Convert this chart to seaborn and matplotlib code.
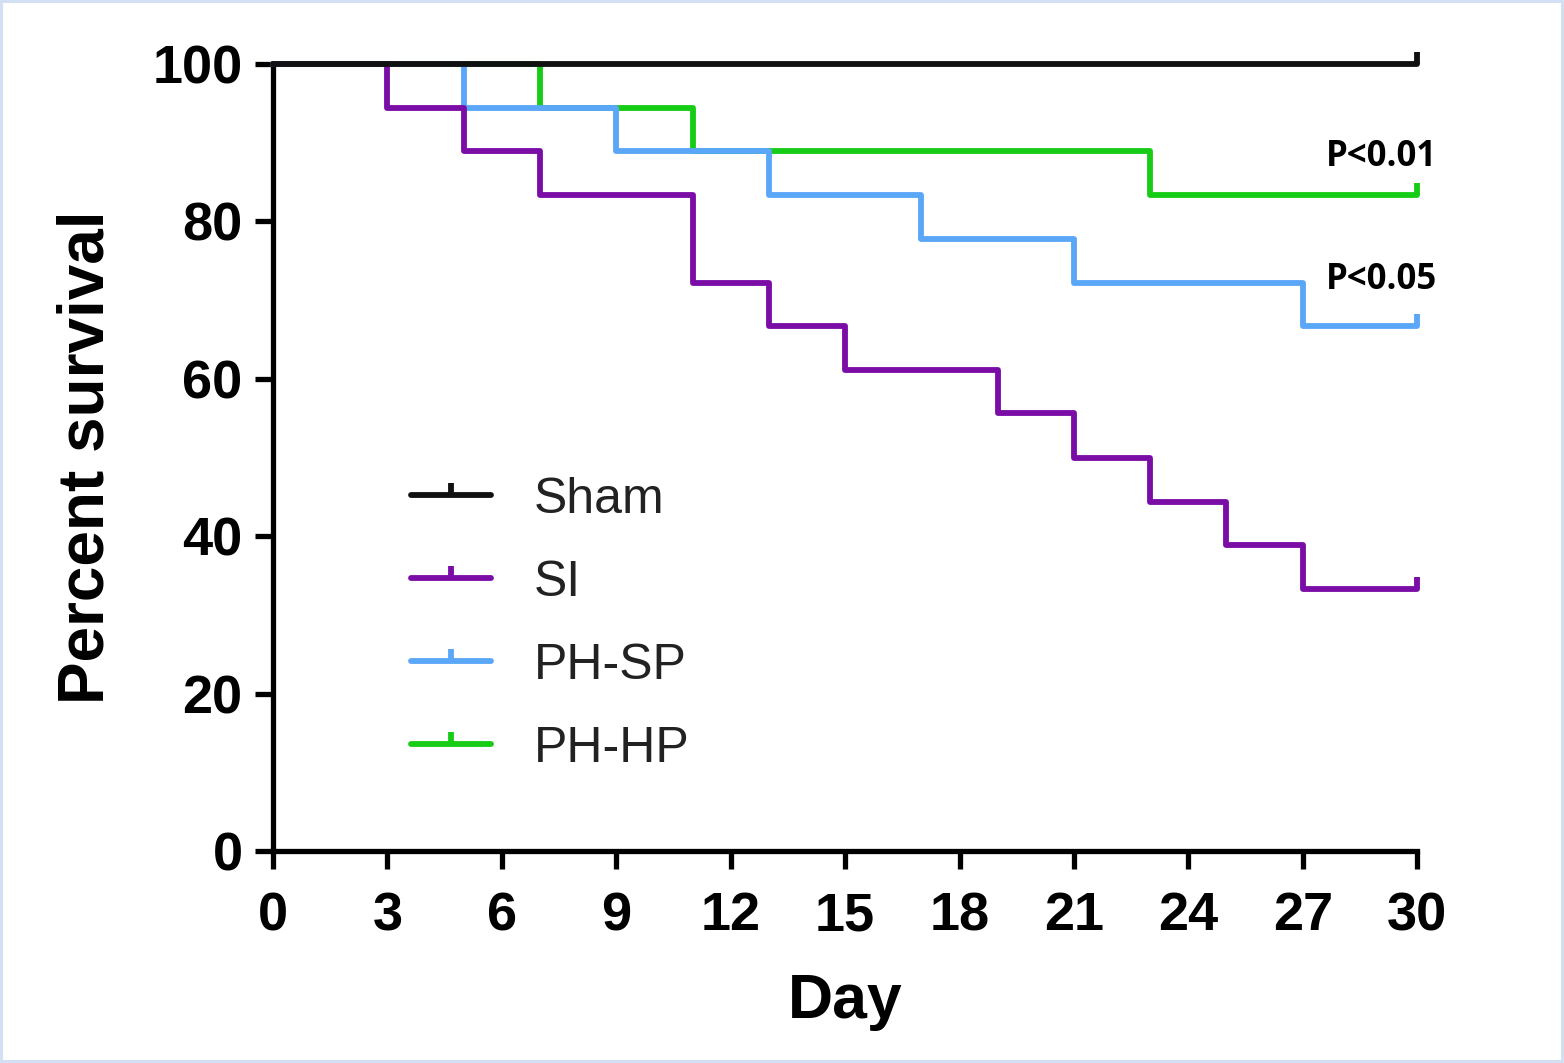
import pandas as pd
import seaborn as sns
import numpy as np
import matplotlib.pyplot as plt
from matplotlib.path import Path

# Kaplan-Meier style step data (day of event, percent survival after event)
sham_day = [0, 30]
sham_pct = [100, 100]

si_day = [0, 3, 5, 7, 11, 13, 15, 19, 21, 23, 25, 27, 30]
si_pct = [100, 94.4, 88.9, 83.3, 72.2, 66.7, 61.1, 55.6, 50.0, 44.4, 38.9, 33.3, 33.3]

phsp_day = [0, 5, 9, 13, 17, 21, 27, 30]
phsp_pct = [100, 94.4, 88.9, 83.3, 77.8, 72.2, 66.7, 66.7]

phhp_day = [0, 7, 11, 23, 30]
phhp_pct = [100, 94.4, 88.9, 83.3, 83.3]

groups = ['Sham', 'SI', 'PH-SP', 'PH-HP']
colors = ['#111111', '#7a0da6', '#5aa6f7', '#16cc16']
p_labels = ['P<0.01', 'P<0.05']
p_y = [88.2, 72.6]

x_ticks = [0, 3, 6, 9, 12, 15, 18, 21, 24, 27, 30]
y_ticks = [0, 20, 40, 60, 80, 100]

sns.set_style("ticks")
plt.rcParams['font.family'] = ['Liberation Sans', 'DejaVu Sans']
plt.rcParams['text.color'] = 'black'
plt.rcParams['axes.labelcolor'] = 'black'
plt.rcParams['xtick.color'] = 'black'
plt.rcParams['ytick.color'] = 'black'
plt.rcParams['axes.edgecolor'] = 'black'

fig = plt.figure(figsize=(15.64, 10.63), dpi=100)
fig.patch.set_edgecolor('#d3e0f4')
fig.patch.set_linewidth(3)
ax = fig.add_axes([0.1746, 0.1994, 0.7315, 0.7404])

# censor tick pointing upward from the line
tick_marker = Path([(0, 0), (0, 1)])

data = {
    'Sham': (sham_day, sham_pct),
    'SI': (si_day, si_pct),
    'PH-SP': (phsp_day, phsp_pct),
    'PH-HP': (phhp_day, phhp_pct),
}
z_order = {'Sham': 5, 'SI': 4, 'PH-SP': 3, 'PH-HP': 2}

for g, c in zip(groups, colors):
    d, p = data[g]
    df = pd.DataFrame({'Day': d, 'Percent survival': p})
    sns.lineplot(data=df, x='Day', y='Percent survival', ax=ax, color=c,
                 drawstyle='steps-post', linewidth=4.2, label=g,
                 marker=tick_marker, markevery=[-1], markersize=18,
                 markeredgewidth=4.2, markeredgecolor=c,
                 clip_on=False, zorder=z_order[g])

ax.set_xlim(0, 30)
ax.set_ylim(0, 100)
ax.set_xticks(x_ticks)
ax.set_yticks(y_ticks)
sns.despine(ax=ax)
for s in ['left', 'bottom']:
    ax.spines[s].set_linewidth(3.8)
ax.tick_params(axis='both', width=3.8, length=13, labelsize=39)
ax.tick_params(axis='x', pad=16)
ax.tick_params(axis='y', pad=9)
for lab in ax.get_xticklabels() + ax.get_yticklabels():
    lab.set_fontweight('bold')

ax.set_xlabel('Day', fontsize=45, fontweight='bold', labelpad=22)
ax.set_ylabel('Percent survival', fontsize=46, fontweight='bold', labelpad=26)

for t, y in zip(p_labels, p_y):
    ax.text(27.6, y, t, fontsize=25, fontweight='bold', family=['Open Sans', 'DejaVu Sans'],
            ha='left', va='center', color='black')

leg = ax.legend(loc='upper left', bbox_to_anchor=(0.09, 0.52), frameon=False,
                fontsize=36, handlelength=1.6, handletextpad=0.85,
                labelspacing=0.74, borderpad=0.2)
for t in leg.get_texts():
    t.set_color('#222222')

fig.savefig('out.png', dpi=100)
